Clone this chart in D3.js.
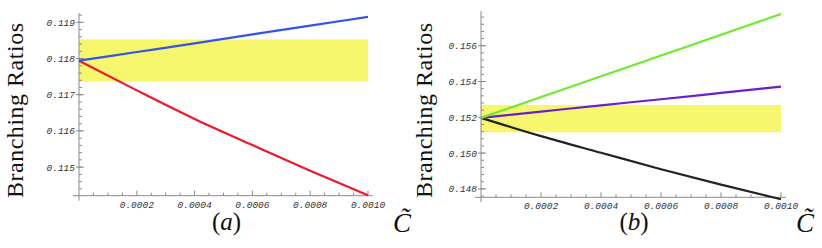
<!DOCTYPE html>
<html>
<head>
<meta charset="utf-8">
<script src="https://cdn.jsdelivr.net/npm/d3@7"></script>
<style>
  body { margin: 0; background: #fff; }
  svg { display: block; }
  .tick-label { font-family: "Liberation Mono", "DejaVu Sans Mono", monospace; font-style: italic; font-size: 9.5px; fill: #333; }
  .axis-title { font-family: "Liberation Serif", "DejaVu Serif", serif; fill: #111; }
</style>
</head>
<body>
<script>
// sample points along C~
var xValues = [ 0, 0.0002, 0.0004, 0.0006, 0.0008, 0.0010 ];
var xTickLabels = [ "0.0002", "0.0004", "0.0006", "0.0008", "0.0010" ];

// panel (a)
var blueA = [ 0.11794, 0.11818, 0.11842, 0.11867, 0.11891, 0.11915 ];
var redA = [ 0.11794, 0.11712, 0.11633, 0.11561, 0.11490, 0.11422 ];
var bandA = [ 0.11736, 0.11853 ];
var yTicksA = [ 0.115, 0.116, 0.117, 0.118, 0.119 ];
var yTickLabelsA = [ "0.115", "0.116", "0.117", "0.118", "0.119" ];

// panel (b)
var greenB = [ 0.15197, 0.15313, 0.15429, 0.15545, 0.15661, 0.15777 ];
var purpleB = [ 0.15197, 0.15232, 0.15267, 0.15301, 0.15336, 0.15371 ];
var blackB = [ 0.15197, 0.15095, 0.15002, 0.14910, 0.14824, 0.14742 ];
var bandB = [ 0.15116, 0.15269 ];
var yTicksB = [ 0.148, 0.150, 0.152, 0.154, 0.156 ];
var yTickLabelsB = [ "0.148", "0.150", "0.152", "0.154", "0.156" ];

var svg = d3.select( "body" ).append( "svg" )
	.attr( "width", 822 )
	.attr( "height", 248 );

function drawPanel( cfg ) {
	var g = svg.append( "g" );

	var x = d3.scaleLinear().domain( [ 0, 0.001 ] ).range( cfg.xRange );
	var y = d3.scaleLinear().domain( cfg.yDomain ).range( cfg.yRange );
	var x0 = x( 0 ), yb = cfg.yRange[0];

	// yellow band
	g.append( "rect" )
		.attr( "x", x( 0 ) )
		.attr( "y", y( cfg.band[1] ) )
		.attr( "width", x( 0.001 ) - x( 0 ) )
		.attr( "height", y( cfg.band[0] ) - y( cfg.band[1] ) )
		.attr( "fill", "#f7f76e" );

	// axes lines
	g.append( "line" )
		.attr( "x1", x0 - 6 ).attr( "x2", x( 0.001 ) + 5 )
		.attr( "y1", yb ).attr( "y2", yb )
		.attr( "stroke", "#8a8a8a" ).attr( "stroke-width", 1 );
	g.append( "line" )
		.attr( "x1", x0 ).attr( "x2", x0 )
		.attr( "y1", cfg.yRange[1] ).attr( "y2", yb + 5 )
		.attr( "stroke", "#8a8a8a" ).attr( "stroke-width", 1 );

	// x ticks
	var xMinor = d3.range( 1, 21 ).map( function ( i ) { return i * 0.00005; } );
	g.selectAll( ".xminor" ).data( xMinor ).join( "line" )
		.attr( "x1", d => x( d ) ).attr( "x2", d => x( d ) )
		.attr( "y1", yb ).attr( "y2", function ( d, i ) { return ( i + 1 ) % 4 === 0 ? yb - 5 : yb - 3; } )
		.attr( "stroke", "#8a8a8a" );
	g.selectAll( ".xlab" ).data( xTickLabels ).join( "text" )
		.attr( "class", "tick-label" )
		.attr( "x", d => x( +d ) )
		.attr( "y", yb + 12 )
		.attr( "text-anchor", "middle" )
		.text( d => d );

	// y ticks
	var step = cfg.yTicks[1] - cfg.yTicks[0];
	var yMinor = [];
	for ( var v = cfg.yTicks[0] - step; v <= cfg.yDomain[1] + 1e-9; v += step / 5 ) {
		if ( v >= cfg.yDomain[0] ) yMinor.push( v );
	}
	g.selectAll( ".yminor" ).data( yMinor ).join( "line" )
		.attr( "x1", x0 ).attr( "x2", x0 + 3 )
		.attr( "y1", d => y( d ) ).attr( "y2", d => y( d ) )
		.attr( "stroke", "#8a8a8a" );
	g.selectAll( ".ymajor" ).data( cfg.yTicks ).join( "line" )
		.attr( "x1", x0 - 3 ).attr( "x2", x0 + 5 )
		.attr( "y1", d => y( d ) ).attr( "y2", d => y( d ) )
		.attr( "stroke", "#8a8a8a" );
	g.selectAll( ".ylab" ).data( cfg.yTicks ).join( "text" )
		.attr( "class", "tick-label" )
		.attr( "x", x0 - 4 )
		.attr( "y", d => y( d ) + 3.5 )
		.attr( "text-anchor", "end" )
		.text( function ( d, i ) { return cfg.yTickLabels[i]; } );

	// curves
	var line = d3.line()
		.x( function ( d, i ) { return x( xValues[i] ); } )
		.y( d => y( d ) )
		.curve( d3.curveMonotoneX );
	cfg.series.forEach( function ( s ) {
		g.append( "path" )
			.attr( "d", line( s.values ) )
			.attr( "fill", "none" )
			.attr( "stroke", s.color )
			.attr( "stroke-width", 2.2 );
	});

	// titles
	g.append( "text" )
		.attr( "class", "axis-title" )
		.attr( "transform", "translate(" + cfg.titleX + ",110.5) rotate(-90)" )
		.attr( "text-anchor", "middle" )
		.attr( "font-size", "24px" )
		.attr( "textLength", 175 )
		.text( "Branching Ratios" );

	var lab = g.append( "text" )
		.attr( "class", "axis-title" )
		.attr( "x", ( cfg.xRange[0] + cfg.xRange[1] ) / 2 + 3 )
		.attr( "y", 230 )
		.attr( "text-anchor", "middle" )
		.attr( "font-size", "25px" );
	lab.append( "tspan" ).text( "(" );
	lab.append( "tspan" ).attr( "font-style", "italic" ).text( cfg.label );
	lab.append( "tspan" ).text( ")" );

	g.append( "text" )
		.attr( "class", "axis-title" )
		.attr( "x", cfg.cX )
		.attr( "y", 232 )
		.attr( "font-size", "27px" )
		.attr( "font-style", "italic" )
		.text( "C\u0303" );
}

drawPanel( {
	xRange: [ 79, 368 ],
	yDomain: [ 0.11421, 0.11925 ],
	yRange: [ 195.7, 13.3 ],
	band: bandA,
	yTicks: yTicksA,
	yTickLabels: yTickLabelsA,
	series: [ { values: redA, color: "#f0172b" }, { values: blueA, color: "#3355e6" } ],
	titleX: 23,
	label: "a",
	cX: 393
} );

drawPanel( {
	xRange: [ 481, 781 ],
	yDomain: [ 0.14753, 0.15794 ],
	yRange: [ 197.3, 11 ],
	band: bandB,
	yTicks: yTicksB,
	yTickLabels: yTickLabelsB,
	series: [ { values: blackB, color: "#222222" }, { values: purpleB, color: "#6a1fcf" }, { values: greenB, color: "#6ceb2a" } ],
	titleX: 432,
	label: "b",
	cX: 796
} );
</script>
</body>
</html>
